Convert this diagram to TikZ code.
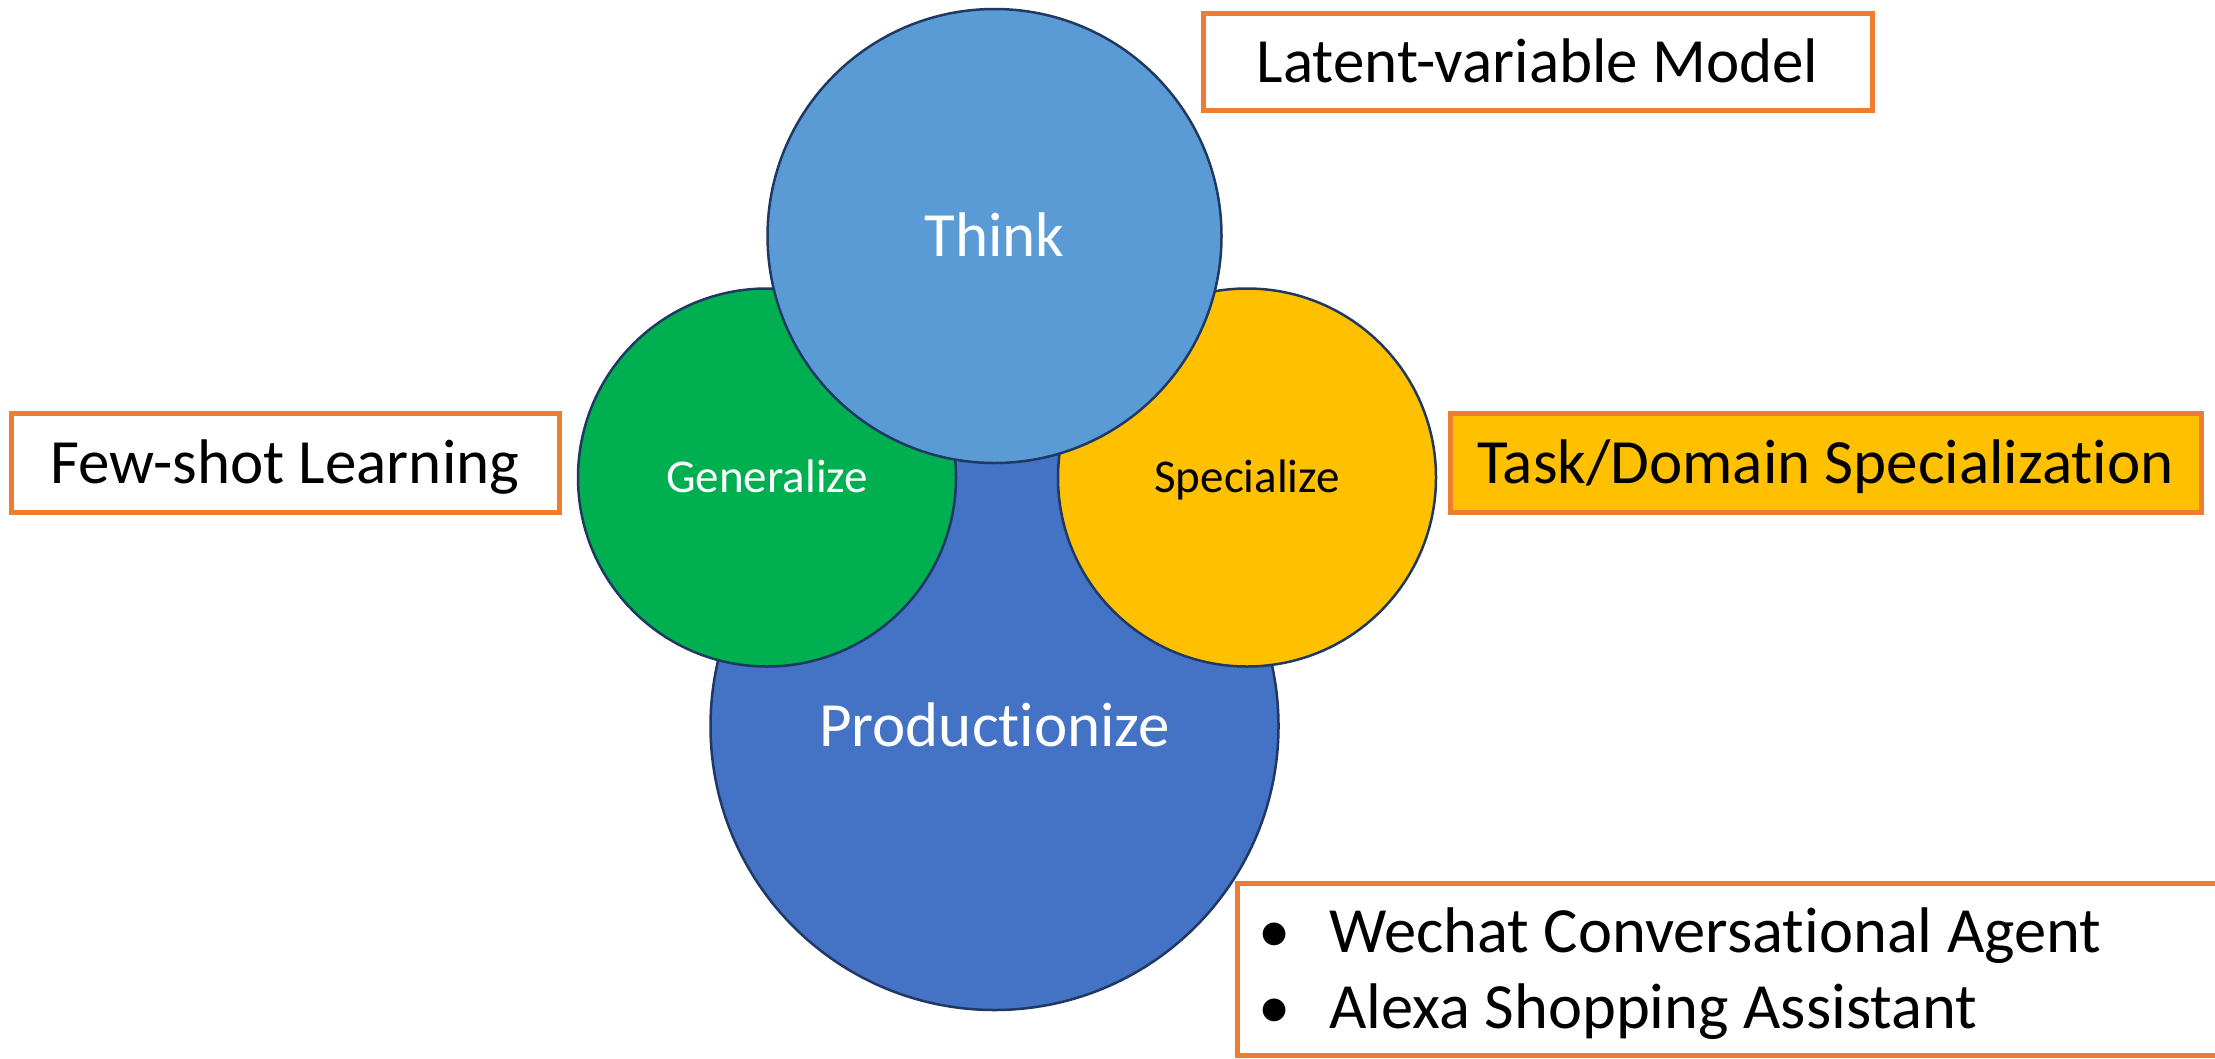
\documentclass[tikz,border=0pt]{standalone}
\usepackage{fontspec}
\setmainfont{Carlito}[Ligatures=NoCommon]
\definecolor{thinkblue}{HTML}{5B9BD5}
\definecolor{prodblue}{HTML}{4472C4}
\definecolor{gengreen}{HTML}{00B050}
\definecolor{specgold}{HTML}{FFC000}
\definecolor{boxorange}{HTML}{ED7D31}
\definecolor{rimnavy}{HTML}{1F3864}
\begin{document}
\begin{tikzpicture}[x=1pt, y=-1pt,
  bigfont/.style={font=\fontsize{63}{76}\selectfont, text height=41pt, text depth=0pt},
  smallfont/.style={font=\fontsize{47}{56}\selectfont, text height=30pt, text depth=0pt},
  bubble/.style={circle, draw=rimnavy, line width=2.5pt, inner sep=0pt, text=white},
  tagbox/.style={draw=boxorange, line width=5pt, inner sep=0pt, bigfont},
  item/.style={anchor=base west, inner sep=0pt, font=\fontsize{64.5}{76}\selectfont}]
\useasboundingbox (0,0) rectangle (2215,1058);
% circles, back to front
\node[bubble, bigfont, fill=prodblue, minimum size=568pt] (prod) at (994.5,726) {Productionize};
\node[bubble, smallfont, fill=gengreen, minimum size=378pt] (gen) at (767,477.5) {Generalize};
\node[bubble, smallfont, fill=specgold, minimum size=378pt, text=black] (spec) at (1247,477.5) {Specialize};
\node[bubble, bigfont, fill=thinkblue, minimum size=454pt] (think) at (994.5,236) {Think};
% tags
\node[tagbox, minimum width=669pt, minimum height=97pt] (latent) at (1537.5,61.5) {Latent-variable Model};
\node[tagbox, minimum width=548pt, minimum height=99pt] (fewshot) at (285,462.5) {Few-shot Learning};
\node[tagbox, fill=specgold, minimum width=751pt, minimum height=99pt] (task) at (1825.5,462.5) {Task/Domain Specialization};
\draw[boxorange, line width=5pt] (1237,883) rectangle (2240,1055);
\node[item] (wechat) at (1258,952) {\makebox[71pt][l]{•}Wechat Conversational Agent};
\node[item] (alexa) at (1258,1028) {\makebox[71pt][l]{•}Alexa Shopping Assistant};
\end{tikzpicture}
\end{document}
